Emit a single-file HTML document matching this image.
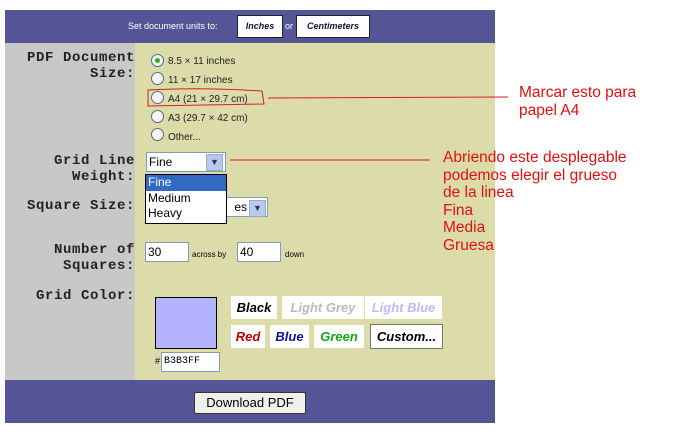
<!DOCTYPE html>
<html><head><meta charset="utf-8"><style>
body{margin:0;width:681px;height:438px;background:#fff;position:relative;overflow:hidden;font-family:"Liberation Sans",sans-serif}
.a{position:absolute}
.lab{font-family:"Liberation Mono",monospace;font-weight:bold;font-size:14px;letter-spacing:0.6px;color:#222;text-align:right;right:546px;line-height:16px}
.r{font-size:10px;color:#222}
.rad{position:absolute;width:11px;height:11px;border:1px solid #5a6a80;border-radius:50%;background:#f4f4f4}
.btn{position:absolute;background:#fff;font-weight:bold;font-style:italic;font-size:13px;text-align:center;line-height:23px;height:23px}
.red{color:#e01010;font-size:15.5px;line-height:17.5px}
.inp{position:absolute;background:#fff;border:1px solid #7f9db9;font-size:12px;line-height:18px;padding-left:2px;height:18px}
.arr{position:absolute;width:15px;height:15px;background:#b8c8f0;border:1px solid #9ab;color:#335;font-size:9px;text-align:center;line-height:15px}
</style></head><body>
<div class="a" style="left:5px;top:10px;width:490px;height:33px;background:#545496"></div>
<div class="a" style="left:5px;top:43px;width:130px;height:337px;background:#c8c8c8"></div>
<div class="a" style="left:135px;top:43px;width:360px;height:337px;background:#dcdcaa"></div>
<div class="a" style="left:5px;top:380px;width:490px;height:43px;background:#545496"></div>
<div class="a" style="left:128px;top:21px;font-size:9px;color:#fff">Set document units to:</div>
<div class="a" style="left:237px;top:15px;width:44px;height:21px;background:#fff;border:1px solid #222;font-size:9px;font-weight:bold;font-style:italic;text-align:center;line-height:21px;color:#113">Inches</div>
<div class="a" style="left:285px;top:21px;font-size:9px;color:#fff">or</div>
<div class="a" style="left:296px;top:15px;width:72px;height:21px;background:#fff;border:1px solid #222;font-size:9px;font-weight:bold;font-style:italic;text-align:center;line-height:21px;color:#113">Centimeters</div>
<div class="a lab" style="top:50px">PDF Document<br>Size:</div>
<div class="rad" style="left:151px;top:54px"><div class="a" style="left:3px;top:3px;width:5px;height:5px;border-radius:50%;background:#3a3"></div></div>
<div class="a r" style="left:168px;top:56px">8.5 × 11 inches</div>
<div class="rad" style="left:151px;top:72px"></div><div class="a r" style="left:168px;top:75px">11 × 17 inches</div>
<div class="rad" style="left:151px;top:91px"></div><div class="a r" style="left:168px;top:94px">A4 (21 × 29.7 cm)</div>
<div class="rad" style="left:151px;top:110px"></div><div class="a r" style="left:168px;top:113px">A3 (29.7 × 42 cm)</div>
<div class="rad" style="left:151px;top:128px"></div><div class="a r" style="left:168px;top:132px">Other...</div>
<svg class="a" style="left:0;top:0" width="681" height="438"><path d="M148 90 Q200 87 262 91 L264 104 L148 106 Z" fill="none" stroke="#d02020" stroke-width="1"/><line x1="268" y1="98" x2="508" y2="97" stroke="#d02020"/><line x1="230" y1="160" x2="430" y2="160" stroke="#d02020"/></svg>
<div class="a red" style="left:519px;top:84px">Marcar esto para<br>papel A4</div>
<div class="a red" style="left:443px;top:149px">Abriendo este desplegable<br>podemos elegir el grueso<br>de la linea<br>Fina<br>Media<br>Gruesa</div>
<div class="a lab" style="top:153px">Grid Line<br>Weight:</div>
<div class="inp" style="left:146px;top:152px;width:76px">Fine</div><div class="arr" style="left:206px;top:154px">▼</div>
<div class="a lab" style="top:198px">Square Size:</div>
<div class="inp" style="left:146px;top:197px;text-align:right;padding-right:20px;width:98px">es</div><div class="arr" style="left:249px;top:200px">▼</div>
<div class="a" style="left:145px;top:174px;width:80px;height:48px;background:#fff;border:1px solid #000;font-size:12px;line-height:15.5px">
<div style="background:#316ac5;color:#fff;padding-left:2px">Fine</div><div style="padding-left:2px">Medium</div><div style="padding-left:2px">Heavy</div></div>
<div class="a lab" style="top:242px">Number of<br>Squares:</div>
<div class="inp" style="left:145px;top:242px;width:40px">30</div>
<div class="a" style="left:192px;top:250px;font-size:8px">across by</div>
<div class="inp" style="left:237px;top:242px;width:40px">40</div>
<div class="a" style="left:285px;top:250px;font-size:8px">down</div>
<div class="a lab" style="top:288px">Grid Color:</div>
<div class="a" style="left:155px;top:297px;width:60px;height:50px;background:#b3b3ff;border:1px solid #000"></div>
<div class="a" style="left:155px;top:356px;font-size:9px">#</div>
<div class="inp" style="left:161px;top:352px;width:55px;font-size:10px;font-family:'Liberation Mono',monospace">B3B3FF</div>
<div class="btn" style="left:231px;top:296px;width:46px;color:#000">Black</div>
<div class="btn" style="left:282px;top:296px;width:82px;color:#bbb">Light Grey</div>
<div class="btn" style="left:365px;top:296px;width:77px;color:#bbf">Light Blue</div>
<div class="btn" style="left:231px;top:325px;width:34px;color:#b00">Red</div>
<div class="btn" style="left:270px;top:325px;width:39px;color:#119">Blue</div>
<div class="btn" style="left:314px;top:325px;width:50px;color:#1a1">Green</div>
<div class="btn" style="left:370px;top:324px;width:71px;color:#000;border:1px solid #777">Custom...</div>
<div class="a" style="left:194px;top:392px;width:110px;height:20px;background:#f0f0ea;border:1px solid #333;border-radius:2px;font-size:13px;text-align:center;line-height:20px">Download PDF</div>
</body></html>
